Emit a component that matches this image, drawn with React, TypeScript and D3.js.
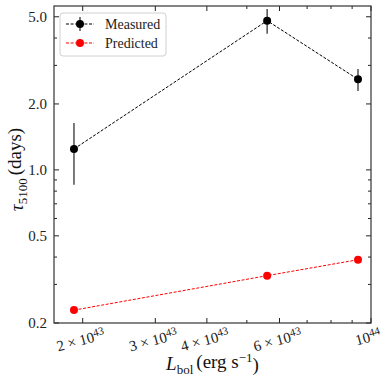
import React from "react";
import * as d3 from "d3";

const lbol = [1.905e43, 5.6e43, 9.3e43];
const measured = [1.246, 4.8, 2.59];
const measuredErr = [0.39, 0.62, 0.3];
const predicted = [0.229, 0.329, 0.389];

const xLabelled = [2e43, 3e43, 4e43, 6e43, 1e44];
const xUnlabelled = [5e43, 7e43, 8e43, 9e43];
const xLabelMant = ["2", "3", "4", "6", ""];
const xLabelExp = ["43", "43", "43", "43", "44"];

const yLabelled = [0.2, 0.5, 1.0, 2.0, 5.0];
const yUnlabelled = [0.3, 0.4, 0.6, 0.7, 0.8, 0.9, 3, 4];
const yLabelText = ["0.2", "0.5", "1.0", "2.0", "5.0"];

const W = 392;
const H = 383;
const L = 54, R = 371, T = 6, B = 323;
const FONT = "'Liberation Serif', 'DejaVu Serif', serif";

export default function App() {
  const x = d3.scaleLog().domain([1.704e43, 1.0e44]).range([L, R]);
  const y = d3.scaleLog().domain([0.2, 5.6]).range([B, T]);

  const line = d3
    .line<[number, number]>()
    .x((d) => x(d[0]))
    .y((d) => y(d[1]));

  const mPts = lbol.map((v, i) => [v, measured[i]] as [number, number]);
  const pPts = lbol.map((v, i) => [v, predicted[i]] as [number, number]);

  const tickCol = "#222";
  const major = 5;
  const minor = 3;

  return (
    <svg width={W} height={H} style={{ position: "absolute", left: 0, top: 0 }} fontFamily={FONT}>
      <rect x={0} y={0} width={W} height={H} fill="white" />
      {/* data lines */}
      <path d={line(mPts) || ""} fill="none" stroke="black" strokeWidth={1} strokeDasharray="3,1.6" />
      <path d={line(pPts) || ""} fill="none" stroke="#ff0000" strokeWidth={1} strokeDasharray="3,1.6" />
      {/* error bars */}
      {lbol.map((v, i) => (
        <line
          key={"e" + i}
          x1={x(v)}
          x2={x(v)}
          y1={y(measured[i] + measuredErr[i])}
          y2={y(measured[i] - measuredErr[i])}
          stroke="#333"
          strokeWidth={1.3}
        />
      ))}
      {mPts.map((d, i) => (
        <circle key={"m" + i} cx={x(d[0])} cy={y(d[1])} r={4} fill="black" />
      ))}
      {pPts.map((d, i) => (
        <circle key={"p" + i} cx={x(d[0])} cy={y(d[1])} r={4} fill="#ff0000" />
      ))}

      {/* ticks */}
      {xLabelled.map((v, i) => (
        <g key={"xl" + i}>
          <line x1={x(v)} x2={x(v)} y1={B} y2={B - major} stroke={tickCol} strokeWidth={1} />
          <line x1={x(v)} x2={x(v)} y1={T} y2={T + major} stroke={tickCol} strokeWidth={1} />
        </g>
      ))}
      {xUnlabelled.map((v, i) => (
        <g key={"xu" + i}>
          <line x1={x(v)} x2={x(v)} y1={B} y2={B - minor} stroke={tickCol} strokeWidth={1} />
          <line x1={x(v)} x2={x(v)} y1={T} y2={T + minor} stroke={tickCol} strokeWidth={1} />
        </g>
      ))}
      {yLabelled.map((v, i) => (
        <g key={"yl" + i}>
          <line x1={L} x2={L + major} y1={y(v)} y2={y(v)} stroke={tickCol} strokeWidth={1} />
          <line x1={R} x2={R - major} y1={y(v)} y2={y(v)} stroke={tickCol} strokeWidth={1} />
        </g>
      ))}
      {yUnlabelled.map((v, i) => (
        <g key={"yu" + i}>
          <line x1={L} x2={L + minor} y1={y(v)} y2={y(v)} stroke={tickCol} strokeWidth={1} />
          <line x1={R} x2={R - minor} y1={y(v)} y2={y(v)} stroke={tickCol} strokeWidth={1} />
        </g>
      ))}

      {/* spines */}
      <rect x={L} y={T} width={R - L} height={B - T} fill="none" stroke="#333" strokeWidth={1.2} />

      {/* y tick labels */}
      {yLabelled.map((v, i) => (
        <text key={"ylt" + i} x={L - 7} y={y(v)} dy="0.35em" textAnchor="end" fontSize={15} fill="#222">
          {yLabelText[i]}
        </text>
      ))}

      {/* x tick labels */}
      {xLabelled.map((v, i) => (
        <g key={"xlt" + i} transform={`translate(${x(v) - (xLabelMant[i] ? 2 : 3)},${xLabelMant[i] ? 340 : 337}) rotate(-15)`}>
          <text textAnchor="middle" dy="0.35em" fontSize={15} fill="#222">
            {xLabelMant[i] ? `${xLabelMant[i]} × 10` : "10"}
            <tspan dy="-0.45em" fontSize={11}>
              {xLabelExp[i]}
            </tspan>
          </text>
        </g>
      ))}

      {/* axis labels */}
      <text x={(L + R) / 2} y={370} textAnchor="middle" fontSize={19} fill="#111">
        <tspan fontStyle="italic">L</tspan>
        <tspan dy="0.3em" fontSize={13}>bol</tspan>
        <tspan dy="-0.3em" dx="3">(erg s</tspan>
        <tspan dy="-0.45em" fontSize={13}>−1</tspan>
        <tspan dy="0.45em">)</tspan>
      </text>
      <g transform={`translate(23,${(T + B) / 2 + 5}) rotate(-90)`}>
        <text textAnchor="middle" fontSize={19} fill="#111">
          <tspan fontStyle="italic">τ</tspan>
          <tspan dy="0.3em" fontSize={13}>5100</tspan>
          <tspan dy="-0.3em" dx="3">(days)</tspan>
        </text>
      </g>

      {/* legend */}
      <rect x={60} y={13} width={106} height={43} rx={3} fill="white" fillOpacity={0.8} stroke="#d0d0d0" strokeWidth={1} />
      <line x1={66} x2={94} y1={24} y2={24} stroke="black" strokeWidth={1} strokeDasharray="3,1.6" />
      <line x1={80} x2={80} y1={17} y2={31} stroke="#333" strokeWidth={1.3} />
      <circle cx={80} cy={24} r={4} fill="black" />
      <text x={105} y={24} dy="0.35em" fontSize={14} fill="#222">Measured</text>
      <line x1={66} x2={94} y1={43} y2={43} stroke="#ff0000" strokeWidth={1} strokeDasharray="3,1.6" />
      <circle cx={80} cy={43} r={4} fill="#ff0000" />
      <text x={105} y={43} dy="0.35em" fontSize={14} fill="#222">Predicted</text>
    </svg>
  );
}
